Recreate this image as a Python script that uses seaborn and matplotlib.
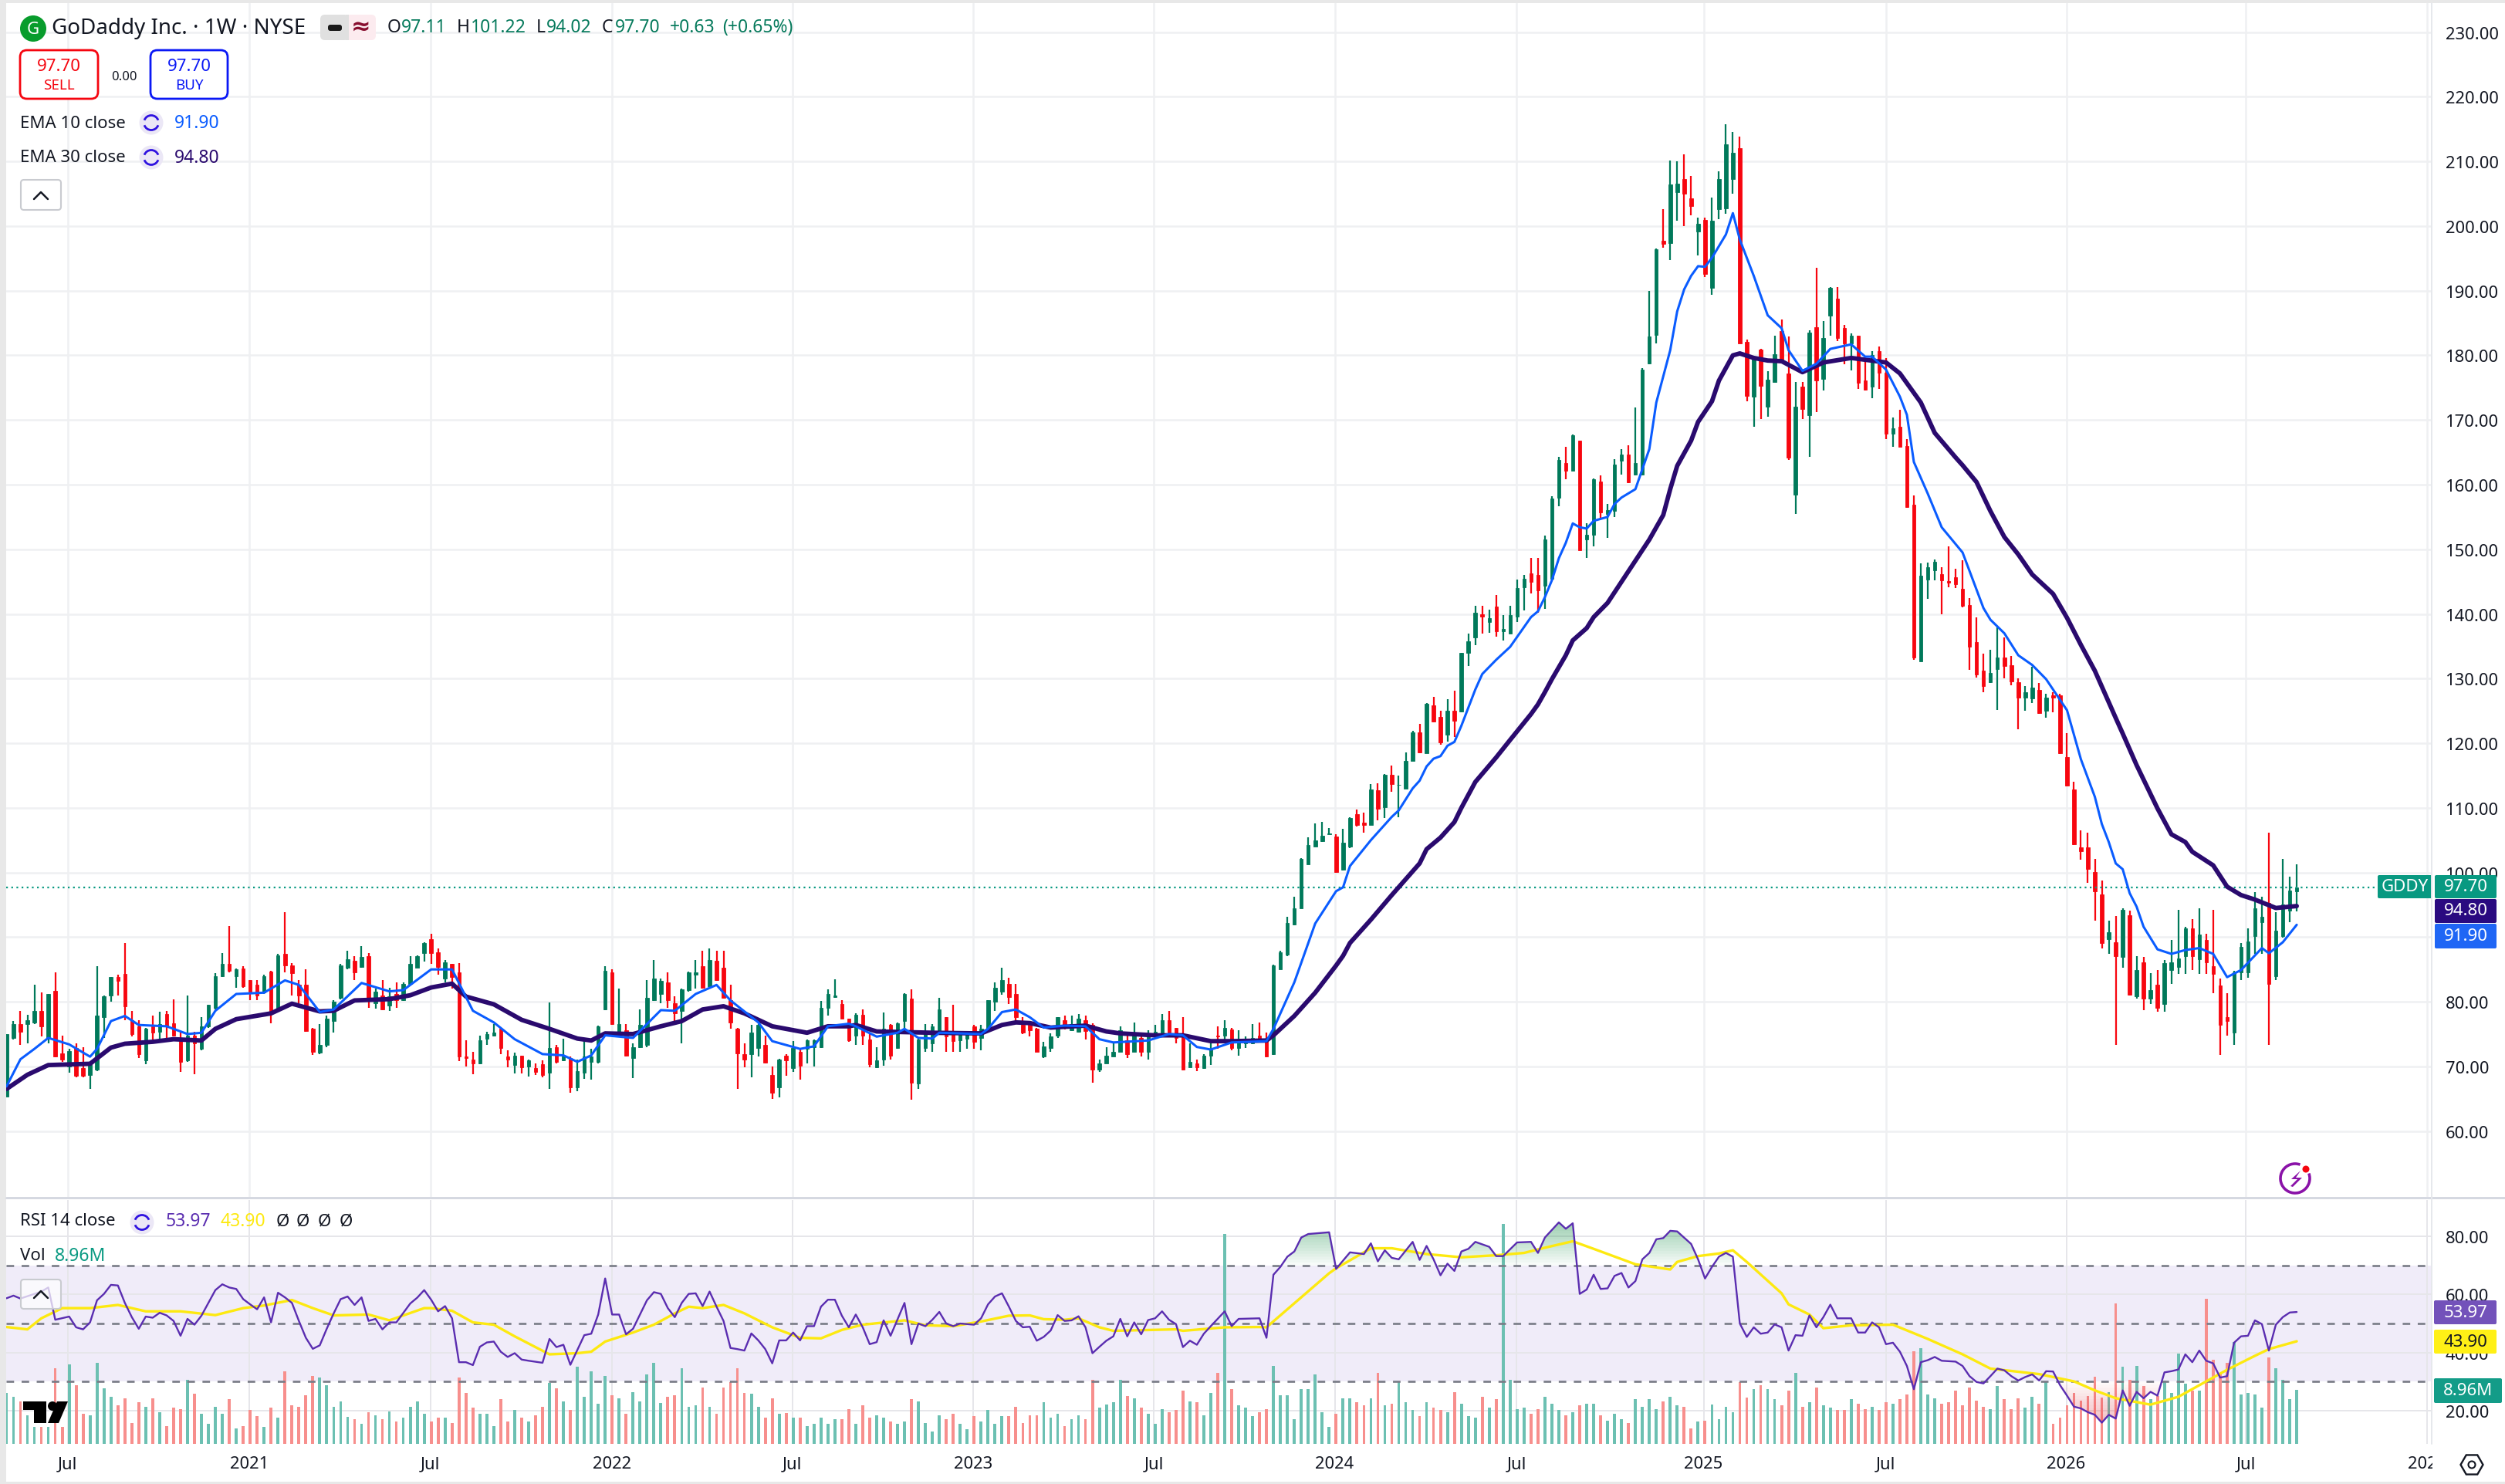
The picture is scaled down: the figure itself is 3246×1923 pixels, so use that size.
import numpy as np
import seaborn as sns
import matplotlib
matplotlib.use("Agg")
import matplotlib.pyplot as plt
from matplotlib.patches import Rectangle, FancyBboxPatch, Circle, Arc, RegularPolygon, Polygon

sns.set_style("white")
plt.rcParams['font.family'] = ['Noto Sans', 'DejaVu Sans']

# weekly candles
opens = [65.3,74.4,76.6,76.6,76.8,78.6,74.4,81.7,72.0,70.0,
    72.8,69.7,68.7,69.5,77.6,81.0,83.8,84.3,77.2,76.2,
    70.9,76.2,75.4,78.1,76.7,74.4,70.9,74.8,72.7,76.2,
    79.0,83.9,85.8,83.9,85.1,83.4,82.6,81.4,84.7,78.6,
    87.4,85.6,82.6,82.6,75.8,72.1,73.3,77.0,80.6,85.2,
    86.3,85.4,87.1,79.8,81.0,79.4,81.2,80.2,82.8,85.3,
    87.5,89.7,87.7,83.6,85.8,84.6,71.5,71.0,70.4,74.3,
    74.7,75.8,71.5,70.2,71.7,70.0,69.7,70.3,69.0,73.0,
    70.9,71.3,66.7,69.0,70.7,70.7,78.8,84.6,75.4,75.6,
    71.3,73.0,73.3,80.2,81.2,83.0,79.8,78.6,81.8,84.2,
    85.5,82.4,86.3,85.2,80.2,75.8,71.9,71.9,72.9,73.3,
    68.7,66.7,71.7,69.7,72.3,72.7,73.0,73.0,79.0,80.7,
    79.6,77.4,74.8,78.0,74.2,69.9,71.1,76.4,72.9,77.0,
    80.5,67.3,72.9,73.5,75.0,77.6,75.0,74.0,74.3,76.2,
    74.4,75.6,80.0,81.5,82.7,81.2,76.4,76.4,75.8,71.5,
    72.9,74.8,77.1,75.6,75.4,77.2,76.4,69.5,70.5,71.5,
    72.3,74.0,72.3,74.4,72.3,74.6,75.0,77.1,75.9,75.0,
    69.9,70.5,69.7,71.7,74.8,74.8,75.7,72.9,73.5,73.5,
    74.7,74.0,71.9,85.0,87.3,91.9,94.5,101.3,104.0,104.8,
    105.9,105.6,100.4,104.0,109.0,107.7,107.4,112.7,110.1,115.1,
    113.5,113.0,117.3,121.7,118.4,125.9,124.1,121.3,125.0,124.9,
    134.0,136.4,139.9,138.8,141.1,137.3,136.9,139.6,144.1,146.3,
    146.0,144.3,145.4,158.0,163.4,162.2,166.8,151.5,152.2,160.5,
    155.5,155.9,163.7,164.7,161.6,161.6,178.7,183.2,197.7,197.4,
    205.3,207.3,204.3,199.2,200.9,190.4,202.6,202.8,207.3,212.1,
    182.1,173.6,180.9,172.1,175.9,183.7,177.2,158.5,175.2,170.8,
    184.3,176.4,186.2,188.8,184.2,181.9,183.0,176.1,175.2,180.7,
    177.3,167.9,169.0,166.0,156.9,132.7,145.3,146.7,146.2,145.1,
    145.7,143.9,141.4,135.6,131.2,129.4,131.5,133.3,132.1,129.4,
    127.1,126.9,128.3,125.0,127.4,127.4,117.8,112.8,103.9,103.9,
    100.1,96.6,89.7,89.2,86.9,93.4,80.8,86.1,80.5,82.6,
    79.7,84.9,85.4,87.0,91.3,86.6,89.5,85.5,82.5,77.6,
    75.2,84.6,84.6,90.1,92.3,95.3,84.0,90.1,94.1,97.11]
highs = [75.0,77.0,78.6,78.0,82.6,81.4,81.2,84.6,74.7,72.7,
    73.6,73.0,70.7,85.5,81.0,83.8,84.2,89.1,78.6,77.2,
    76.0,77.9,78.4,78.6,80.4,75.2,81.0,75.4,77.6,79.5,
    84.4,87.5,91.7,85.1,85.5,83.4,83.4,84.2,84.8,87.4,
    93.8,86.0,83.4,85.0,76.0,76.6,77.8,80.2,85.8,87.9,
    87.0,88.6,87.5,82.0,83.3,82.2,83.0,83.0,87.0,87.2,
    89.2,90.5,88.3,86.5,85.8,86.0,74.0,72.3,74.7,75.4,
    76.6,76.0,72.5,72.1,71.7,71.0,70.5,70.9,79.9,73.3,
    74.3,71.5,71.1,74.0,72.7,76.3,85.5,85.0,82.0,76.5,
    73.6,78.8,83.4,86.4,83.6,84.6,80.8,82.0,84.7,86.5,
    87.9,88.3,87.9,87.9,82.6,75.9,73.6,76.4,76.6,74.8,
    70.0,71.2,71.9,73.9,72.7,74.2,74.1,80.1,81.9,83.5,
    80.2,77.4,78.2,78.8,75.0,73.0,78.3,76.6,76.8,81.3,
    81.9,74.3,76.5,76.5,80.6,77.6,79.5,75.4,75.4,76.4,
    76.4,80.3,83.0,85.3,83.7,82.8,77.6,77.0,75.9,73.8,
    75.1,77.6,77.9,77.8,78.1,77.9,76.7,71.1,73.0,73.5,
    76.2,75.0,76.8,74.8,75.6,76.4,78.1,78.6,76.0,77.6,
    73.5,71.1,71.9,73.6,76.2,77.2,75.9,75.6,74.6,76.5,
    76.8,75.2,85.7,87.9,93.1,96.2,102.2,105.4,107.6,107.8,
    106.9,105.9,106.7,108.6,109.7,109.2,113.7,113.8,115.2,116.5,
    115.0,118.6,121.9,123.0,126.2,127.2,125.0,126.8,128.1,134.0,
    136.9,141.3,141.2,140.7,142.9,139.8,141.3,145.3,146.0,148.7,
    148.7,152.1,158.2,164.3,165.8,167.7,166.8,154.0,161.0,161.4,
    157.0,163.9,165.5,166.1,171.9,178.0,190.0,196.5,202.6,210.2,
    210.0,211.1,207.8,201.3,201.3,204.4,208.5,215.8,214.6,213.8,
    182.5,179.7,181.0,177.6,183.1,185.5,182.9,175.9,175.9,183.9,
    193.5,185.3,190.6,190.6,184.7,183.4,183.0,179.7,180.7,181.4,
    179.6,170.4,171.6,167.1,158.3,147.8,148.0,148.4,147.2,150.5,
    147.0,148.3,142.5,139.5,133.9,134.4,137.9,136.4,133.5,130.0,
    128.8,131.8,129.3,127.6,127.9,127.7,121.6,114.0,106.5,106.1,
    102.1,98.8,92.5,93.3,94.4,94.1,87.0,86.9,84.4,84.9,
    86.4,89.5,94.2,91.6,92.8,94.4,90.5,94.2,83.6,81.3,
    84.8,89.1,91.3,97.0,96.2,106.2,93.8,102.1,99.4,101.22]
lows = [65.3,74.2,73.3,73.6,76.6,74.6,73.5,71.4,70.7,69.0,
    68.3,68.3,66.5,69.3,74.4,80.0,81.0,77.2,74.6,71.3,
    70.3,74.2,74.2,74.2,74.6,69.2,70.7,68.8,72.5,76.0,
    78.8,83.8,84.6,82.2,82.2,80.2,80.2,81.2,76.7,78.5,
    84.6,81.0,79.8,75.4,71.8,71.9,73.0,75.2,80.4,85.0,
    83.4,85.2,79.0,78.9,78.7,78.6,79.0,80.1,82.6,85.2,
    86.2,85.8,84.2,83.0,82.0,70.8,70.0,68.8,70.3,73.3,
    74.6,71.9,69.9,68.9,68.9,68.4,68.7,68.3,66.5,70.5,
    70.8,65.9,66.1,68.1,67.9,70.5,78.7,76.4,75.0,71.5,
    68.2,72.9,73.0,80.1,79.8,79.0,76.6,73.5,81.6,82.0,
    82.0,82.2,83.2,80.5,75.8,66.5,69.9,68.3,71.5,70.5,
    65.0,65.2,68.5,69.1,68.0,70.5,70.0,72.8,77.8,80.6,
    77.4,73.8,73.3,73.3,69.9,69.7,70.1,71.1,72.7,75.8,
    64.8,66.5,72.3,72.3,75.0,72.3,72.3,72.3,72.7,72.7,
    72.5,75.4,78.6,81.1,79.7,76.8,75.0,74.6,72.3,71.3,
    72.3,74.4,75.7,75.5,75.2,74.2,67.5,69.1,70.4,71.5,
    72.2,71.3,72.2,71.5,71.1,74.4,75.0,75.0,73.6,69.4,
    69.8,69.3,69.6,70.2,72.7,73.9,72.5,71.7,72.9,73.4,
    74.0,71.4,71.8,85.0,87.1,91.8,94.4,101.2,104.0,104.7,
    105.9,100.0,100.3,103.8,107.1,106.2,107.3,108.1,108.4,112.5,
    108.5,112.9,117.2,118.5,118.4,123.2,119.8,120.3,120.9,124.8,
    132.0,135.2,136.9,137.1,136.5,135.9,136.9,138.8,140.5,143.2,
    140.2,140.8,145.3,156.7,160.8,162.1,149.9,148.6,150.4,154.6,
    151.8,155.0,161.6,160.2,161.4,161.4,178.6,181.9,196.6,194.8,
    200.8,200.0,201.7,195.4,192.1,189.4,201.1,201.9,205.0,181.8,
    172.9,168.9,170.2,170.5,175.9,178.7,163.8,155.5,170.2,164.3,
    171.2,174.6,183.1,182.2,178.6,177.7,174.8,174.6,173.4,174.8,
    167.1,165.9,165.8,156.4,132.9,132.7,142.3,145.2,140.0,144.1,
    144.0,141.0,131.3,130.1,127.9,129.3,125.1,130.0,128.9,122.2,
    125.0,126.2,124.5,123.9,124.8,118.3,113.3,104.3,102.0,98.4,
    92.5,88.3,87.4,73.3,85.2,81.0,80.5,78.7,79.6,78.5,
    78.5,82.8,84.3,84.3,84.9,84.3,84.3,81.3,71.8,74.7,
    73.3,83.4,83.7,87.4,87.4,73.3,83.4,89.9,92.3,94.02]
closes = [75.0,76.6,75.4,77.2,78.6,76.2,81.2,71.5,71.0,72.4,
    68.5,68.5,70.3,77.8,80.8,83.8,83.2,79.3,75.0,71.9,
    75.8,75.2,76.6,76.2,74.8,70.7,74.8,73.6,76.2,79.5,
    83.9,85.8,84.8,85.0,82.4,81.6,81.0,83.9,78.2,87.2,
    85.6,84.4,81.0,75.5,72.3,73.3,77.4,80.0,85.6,86.6,
    84.6,86.9,80.2,81.6,78.8,80.8,80.2,82.8,85.8,87.0,
    89.1,87.5,85.4,86.1,83.8,71.5,71.3,70.4,74.0,75.0,
    75.2,72.9,71.0,71.7,69.9,70.9,69.1,68.7,72.9,70.7,
    71.5,66.8,69.3,71.5,71.5,76.2,84.8,76.6,76.6,71.7,
    73.0,76.4,80.6,83.6,83.2,80.2,78.2,81.9,84.6,84.6,
    82.2,86.5,83.4,80.6,76.8,72.0,71.0,75.2,76.4,70.6,
    65.9,71.1,70.9,72.9,70.1,74.0,74.0,79.0,81.2,81.0,
    77.4,74.0,78.0,74.8,70.3,70.9,75.8,71.7,76.7,81.2,
    67.5,74.1,75.4,76.2,78.8,74.6,73.9,75.0,75.0,73.8,
    75.8,80.2,82.1,83.3,80.7,77.6,75.2,75.6,72.3,73.1,
    74.6,77.6,76.0,76.6,77.4,75.5,69.5,70.5,71.7,72.3,
    75.6,71.9,75.0,72.2,75.0,75.4,77.1,75.2,74.4,69.5,
    70.7,69.9,71.7,72.6,74.6,75.9,72.9,74.2,74.0,74.4,
    74.2,71.5,85.6,87.7,92.2,94.5,102.1,104.2,104.9,105.7,
    106.0,100.1,104.6,108.4,107.4,107.4,112.8,109.9,115.1,113.7,
    113.6,117.2,121.7,118.6,126.1,123.3,120.1,125.0,123.5,134.0,
    135.8,140.2,139.6,139.3,137.3,137.7,139.8,144.0,145.4,145.0,
    143.7,151.5,157.9,163.8,162.1,167.6,149.9,152.2,160.8,155.7,
    156.1,163.1,164.7,160.4,163.3,177.8,182.9,196.4,197.2,206.4,
    206.6,205.0,203.1,200.3,192.6,200.8,207.3,212.6,211.3,181.9,
    173.7,179.7,175.3,176.2,180.2,178.9,164.2,172.1,171.7,183.5,
    176.1,182.7,190.4,182.7,181.9,183.1,175.7,174.7,180.0,177.3,
    167.9,168.7,165.9,156.5,133.2,145.9,147.2,148.1,145.2,144.8,
    144.6,141.3,134.9,130.6,128.8,130.9,133.2,131.9,129.5,127.1,
    127.9,128.6,124.6,127.1,127.1,118.4,113.4,104.4,103.3,100.5,
    97.1,89.1,90.7,87.1,94.2,81.1,84.9,80.5,81.8,79.1,
    86.0,86.1,86.7,91.3,87.0,90.4,86.1,84.3,76.4,77.0,
    84.6,88.5,89.3,94.5,93.1,82.8,91.0,95.0,97.2,97.70]
volumes = [8.5,7.8,7.1,4.8,2.8,2.8,2.8,12.5,2.8,13.2,
    9.8,5.0,4.7,13.5,9.2,7.8,6.4,7.6,3.5,6.9,
    6.2,7.6,5.3,3.0,6.0,5.8,10.7,8.3,5.0,3.3,
    6.2,5.0,7.4,2.6,3.0,5.6,4.6,2.8,6.0,4.3,
    12.0,6.4,6.2,8.1,11.3,11.0,9.7,6.2,7.0,4.5,
    4.1,3.3,5.3,4.8,4.1,5.4,3.7,4.3,6.2,7.1,
    5.0,3.7,4.3,4.3,3.5,11.0,8.5,6.0,5.0,5.0,
    3.0,7.4,3.7,5.6,4.3,3.7,4.7,6.2,10.1,9.2,
    7.1,5.6,12.8,7.8,12.0,6.7,11.3,8.1,7.5,5.0,
    8.6,7.1,11.5,13.5,6.8,7.8,8.1,12.5,6.2,6.4,
    9.4,6.2,5.0,9.4,10.3,12.5,8.4,8.3,6.2,4.3,
    7.6,5.0,5.1,4.3,4.3,3.0,3.3,4.3,3.3,4.1,
    4.1,5.8,3.3,6.4,4.3,4.7,4.3,3.7,3.3,3.7,
    7.4,7.1,3.5,2.1,4.8,4.1,5.0,3.3,2.4,4.6,
    3.7,5.6,3.3,4.6,4.6,6.2,3.5,4.8,4.8,6.9,
    4.3,5.0,3.0,4.1,4.8,4.1,10.7,6.0,6.6,6.9,
    10.7,7.9,7.6,6.0,5.0,3.3,5.8,5.3,5.6,8.8,
    7.1,6.9,4.8,8.4,11.8,34.9,9.1,6.4,6.0,4.6,
    5.3,5.8,13.0,8.1,8.1,4.1,9.1,9.1,11.5,5.3,
    2.8,5.0,7.6,7.6,6.9,6.4,7.6,11.8,6.4,6.7,
    10.3,6.9,5.6,4.6,6.9,6.0,5.6,5.3,8.6,6.7,
    4.6,4.3,7.8,6.0,7.4,36.5,10.7,5.8,6.0,5.0,
    5.8,7.8,6.7,5.6,4.8,5.3,6.4,6.7,6.7,4.8,
    3.8,5.0,4.1,3.5,7.4,6.2,7.4,5.8,7.1,7.8,
    6.4,6.2,2.6,3.7,3.8,6.6,4.1,6.2,5.3,10.3,
    7.7,9.1,9.8,9.1,7.4,6.4,8.9,11.8,6.2,6.9,
    9.4,6.4,6.0,5.7,5.6,7.4,6.7,5.8,6.2,5.6,
    6.9,6.7,7.4,8.2,15.4,15.9,8.2,7.6,6.7,6.9,
    8.9,6.4,9.4,7.2,6.2,5.8,9.6,7.4,5.8,7.6,
    6.0,7.8,6.7,10.3,3.3,4.3,6.4,8.4,7.2,7.9,
    11.2,7.7,8.6,23.3,12.8,10.6,13.0,9.6,7.4,7.9,
    10.5,8.4,15.0,10.0,8.8,8.9,24.1,14.0,11.8,13.5,
    16.9,8.2,8.4,8.2,6.0,14.4,12.5,10.6,7.4,8.96]

# lines read at their turning points: (bar number, value)
ema10_pts = [(0,66.9),(2,71.1),(4,72.7),(6,74.4),(9,73.4),(12,71.5),(13,72.7),(15,77),(17,77.8),(19,76.4),
    (23,76.2),(26,75),(28,75.2),(30,78.6),(33,81.2),(37,81.4),(40,83.3),(42,82.6),(45,78.4),(47,78.8),
    (51,82.9),(55,81.6),(57,81.8),(61,85),(64,85),(67,78.6),(70,76.8),(73,74.2),(77,71.9),(80,71.7),
    (82,70.7),(84,71.7),(86,74.8),(90,74.4),(94,78.7),(96,78.6),(99,81.2),(102,82.6),(104,80.2),(108,76.8),
    (110,73.9),(114,72.7),(116,73.1),(118,76.2),(121,76.6),(122,76.2),(125,74.6),(128,75.2),(129,75.8),(131,74.4),
    (133,74.3),(134,75.2),(140,75),(141,75.8),(143,78.4),(145,78.8),(147,77.6),(149,76),(152,76.3),(155,76.2),
    (157,74.2),(159,73.7),(164,74),(167,75),(169,74.8),(171,73),(173,72.6),(176,73.7),(181,73.9),(182,75.8),
    (185,83),(188,92.1),(191,97.1),(192,97.7),(193,101),(196,105),(199,108.6),(200,109.6),(202,113),(203,114.2),
    (204,116.4),(205,117.6),(206,118),(207,119.6),(208,120.2),(209,122.7),(211,128.3),(212,130.7),(214,132.9),(216,134.9),
    (219,139.5),(220,140.4),(221,142.6),(222,145.2),(223,148.6),(224,151),(225,154),(226,153.4),(227,153.2),(228,154.4),
    (230,155),(231,157),(232,158),(234,159.3),(236,165.5),(237,172.7),(239,180.8),(240,186.8),(241,190.2),(242,192.3),
    (243,193.8),(244,193.7),(245,195.1),(247,198.7),(248,202),(249,197.9),(251,192.3),(253,186.2),(255,184.2),(256,180.8),
    (258,177.6),(260,178.7),(262,181),(265,181.7),(267,179.8),(268,179.8),(270,177.8),(272,173.6),(273,170.8),(274,163.5),
    (276,158.6),(278,153.4),(281,149.5),(284,140.9),(285,139.1),(287,137),(289,133.6),(291,132.1),(293,129.9),(296,125.1),
    (298,117.5),(300,111.7),(301,107.5),(302,104.7),(303,101.4),(304,100.5),(305,96.8),(306,94.7),(307,91.6),(309,88.1),
    (311,87.4),(313,88),(315,88.3),(317,87.4),(319,83.8),(321,84.9),(324,88.3),(325,87.5),(327,89.2),(329,91.9)]
ema30_pts = [(0,66.5),(3,68.7),(6,70.2),(12,70.4),(15,72.9),(17,73.5),(21,73.8),(24,74.2),(28,74),(30,75.8),
    (33,77.3),(38,78.2),(41,79.7),(45,78.5),(47,78.6),(50,80.2),(55,80.4),(58,81),(61,82.2),(64,82.8),
    (66,80.8),(70,79.6),(74,77.2),(78,75.8),(82,74.3),(84,74),(86,75.1),(90,75),(94,76.2),(97,77),
    (100,78.8),(103,79.3),(106,78.2),(110,76.2),(115,75.2),(118,76.2),(121,76.2),(122,76.4),(125,75.4),(133,75.2),
    (140,75.1),(143,76.4),(145,76.8),(147,76.7),(150,76),(155,76.3),(158,75.4),(160,75.1),(165,74.8),(169,74.8),
    (173,73.9),(176,73.9),(181,74),(182,74.8),(185,77.8),(188,81.4),(191,85.6),(192,87.1),(193,89.1),(196,92.7),
    (199,96.5),(203,101.4),(204,103.6),(206,105.4),(208,107.8),(209,110),(211,114),(214,117.8),(216,120.5),(219,124.5),
    (220,126),(221,127.9),(222,129.9),(224,133.6),(225,135.9),(227,137.8),(228,139.5),(230,141.7),(236,151.5),(238,155.3),
    (239,159.3),(240,162.9),(242,166.8),(243,169.7),(245,172.9),(246,176.1),(248,180),(249,180.3),(251,179.6),(253,179.2),
    (255,179.1),(258,177.4),(261,178.9),(265,179.6),(270,178.9),(272,177.2),(273,175.7),(275,172.7),(277,168),(280,164.2),
    (281,163),(283,160.4),(285,155.9),(287,151.9),(289,149.2),(291,146.1),(294,143.1),(296,139.4),(298,135.2),(300,131.2),
    (303,123.9),(304,121.5),(306,116.6),(309,109.9),(311,105.9),(313,104.7),(314,103.2),(317,101.1),(319,97.8),(321,96.5),
    (323,95.8),(326,94.5),(329,94.8)]
rsi_pts = [(0,58.7),(1,59.6),(2,58.6),(5,61),(6,62.4),(7,51.3),(9,52.4),(10,48.7),(11,48),(12,50.4),(13,58),(14,60.2),
    (15,63.3),(16,63.1),(17,57.1),(18,52.2),(19,48.2),(20,52.4),(21,52),(22,53.7),(23,52.8),(24,50.9),(25,45.8),(26,51.6),
    (27,49.6),(28,52.7),(29,57.1),(30,61.5),(31,63.5),(32,62.4),(33,61.9),(34,58.4),(35,56.6),(36,54.9),(37,59),(38,50.4),
    (39,60.6),(40,59),(41,57.1),(42,50.9),(43,45.1),(44,41.3),(45,42.5),(46,48.2),(47,53.5),(48,58.4),(49,59.3),(50,56.4),
    (51,59),(52,50.9),(53,51.6),(54,48),(55,50.4),(56,50.4),(58,56.9),(59,58.9),(60,61.5),(61,58.2),(62,54.2),(63,56),
    (64,51.8),(65,36.7),(66,36.7),(67,35.7),(68,42),(69,43.5),(70,43.8),(71,40.3),(72,38.5),(73,39.8),(74,37.6),(75,37.2),
    (77,36.5),(78,44.7),(79,41.9),(80,42.7),(81,35.8),(83,46),(84,46.5),(85,53.1),(86,65.5),(87,53.1),(88,53.1),(89,46.3),
    (90,48.2),(92,58),(93,60.8),(94,60.2),(95,55.3),(96,52.2),(97,57.1),(98,60.2),(99,60.4),(100,56),(101,61),(102,55.8),
    (103,50.9),(104,41.6),(105,41.2),(106,40.7),(107,46.6),(108,44.2),(109,41.2),(110,36.3),(111,44.2),(112,44.2),(113,46.9),(114,44.2),
    (115,49.1),(116,49.1),(117,55.8),(118,58.2),(119,58.2),(120,52.7),(121,48.7),(122,53.1),(123,48.7),(124,42.9),(125,43.6),(126,51.1),
    (127,45.8),(129,57.1),(130,42.9),(131,50),(132,49.1),(133,51.3),(134,54),(135,50),(136,49.1),(137,50),(139,49.6),(140,51.8),
    (141,56.6),(142,59.3),(143,60.4),(144,55.8),(145,50.9),(146,48.7),(147,48.9),(148,44.1),(149,45.4),(150,47.6),(151,52.9),(152,50.9),
    (153,51.1),(154,52.5),(155,48.7),(156,39.8),(157,42),(158,44.1),(159,45.6),(160,51.6),(161,45.6),(162,50.4),(163,46.3),(164,51.2),
    (165,51.8),(166,54.2),(167,51.3),(168,49.8),(169,41.9),(170,44.1),(171,42.7),(172,46.5),(173,49.1),(175,54.2),(176,49.1),(177,51.6),
    (180,51.8),(181,45.1),(182,66.8),(183,69.5),(184,73),(185,74.8),(186,79.6),(187,80.8),(190,81.4),(191,68.8),(193,74.5),(195,73.9),
    (196,77.6),(197,71.4),(198,75.2),(199,72.6),(200,72.1),(202,78.1),(203,71.9),(204,76.7),(205,72.1),(206,66.6),(207,70.6),(208,68.1),
    (209,74.8),(210,75.7),(211,78.1),(213,76.4),(214,73.2),(215,73.2),(217,77.9),(219,78.1),(220,74.3),(221,79.6),(223,84.8),(224,82.6),
    (225,84.5),(226,60.2),(227,61.7),(228,66.8),(229,61.9),(230,62.1),(231,66.4),(232,67.4),(233,62.4),(234,64.6),(235,72.1),(236,74.3),
    (237,79),(238,79.4),(239,81.9),(240,81.7),(242,77.4),(243,72.1),(244,65.5),(245,69.5),(246,73),(247,74.3),(248,73),(249,50),
    (250,45.4),(251,48.7),(252,46.5),(253,46.9),(254,49.7),(255,48.7),(256,40.7),(257,46),(258,45.8),(259,52.8),(260,48.7),(261,52.2),
    (262,56.5),(263,51.8),(265,51.8),(266,46.9),(267,46.9),(268,50.4),(269,48.7),(270,42.9),(271,43.4),(272,40.3),(273,35.4),(274,27.4),
    (275,36.7),(276,37.4),(277,38.5),(278,37.2),(280,36.9),(281,35.4),(282,31.9),(283,29.9),(284,29.4),(285,31.9),(286,34.5),(287,33.9),
    (288,31.9),(289,30.4),(290,31.6),(291,32.5),(292,30.4),(293,33.6),(294,33.5),(295,28.8),(296,25.2),(297,21.4),(298,20.8),(299,19.5),
    (300,18.6),(301,15.9),(302,18.6),(303,17.3),(304,27),(305,21.7),(306,26.5),(307,24.3),(308,26.5),(309,25.2),(310,33.2),(311,33.6),
    (312,34.2),(313,39.4),(314,36.7),(315,40.7),(316,37.2),(317,36.3),(318,31.4),(319,31.9),(320,43.4),(321,45.6),(322,45.8),(323,51.1),
    (324,49.8),(325,40.7),(326,49.6),(327,52.2),(328,53.8),(329,53.97)]
rsi_ma_pts = [(0,48.8),(3,48),(5,51.8),(8,55.3),(12,55.3),(16,56.4),(20,54.2),(25,54.2),(30,52.9),(34,55.3),(37,56.2),(41,58.1),
    (44,55.3),(47,52.8),(52,53.1),(55,51.1),(60,55.3),(61,55.3),(64,54.4),(67,50.4),(70,49.6),(73,45.6),(78,39.4),(82,39.8),
    (84,40.3),(86,43.8),(90,46.9),(93,49.6),(96,53.5),(98,55.8),(100,55.3),(103,56.4),(106,53.5),(110,48.7),(114,45.1),(117,44.9),
    (120,47.8),(121,48.4),(123,49.6),(129,51.1),(132,49.4),(136,49.1),(140,50.7),(144,52.7),(147,52.8),(149,51.5),(152,51.3),(154,51.8),
    (157,48.7),(159,47.5),(168,48),(169,47.5),(175,48.7),(180,48.8),(181,48.7),(190,67.3),(191,69),(196,75.9),(199,75.9),(204,73.9),
    (209,72.8),(214,73.5),(218,74.3),(221,76.1),(225,78.3),(228,75.7),(234,70.4),(239,68.6),(240,71.2),(243,73.2),(246,74.1),(248,75.2),
    (250,71.2),(255,60.4),(256,56.6),(259,53.1),(261,48.4),(265,49.4),(271,49.6),(276,44.7),(281,39.4),(285,34.5),(292,32.6),(297,30.1),
    (300,27),(303,24.3),(308,22.1),(312,24.8),(316,30.1),(319,34.1),(323,38.9),(325,41.2),(329,43.9)]

price_ticks = list(range(60, 240, 10))
rsi_ticks = [20, 40, 60, 80]
date_labels = ['Jul', '2021', 'Jul', '2022', 'Jul', '2023', 'Jul', '2024', 'Jul', '2025', 'Jul', '2026', 'Jul', '2027']
date_bars = [8.8, 34.9, 60.9, 87, 112.9, 138.9, 164.8, 190.8, 216.9, 243.8, 270, 295.9, 321.7, 347.7]

for name, arr in [('opens', opens), ('highs', highs), ('lows', lows), ('closes', closes), ('volumes', volumes)]:
    assert len(arr) == 330, (name, len(arr))

W, H = 3246, 1924
UP, DOWN = '#00795a', '#f7060f'
VUP, VDOWN = '#6cc0b2', '#f78f8d'
GRID = '#eff0f2'
XLIM = (-0.05, 348.5)
bars = np.arange(330)


def axes_px(x0, y0, x1, y1, **kw):
    return fig.add_axes([x0 / W, 1 - y1 / H, (x1 - x0) / W, (y1 - y0) / H], **kw)


def pts(seq):
    a = np.array(seq, dtype=float)
    return a[:, 0], a[:, 1]


fig = plt.figure(figsize=(W / 100, H / 100), dpi=100, facecolor='#e8e8e8')
fig.add_artist(Rectangle((8 / W, 1 - 1921 / H), (W - 8) / W, (1921 - 5) / H, transform=fig.transFigure, fc='white', ec='none', zorder=-1))

# price pane
ax = axes_px(8, 5, 3152, 1552, zorder=1)
ax.patch.set_alpha(0)
ax.set_axisbelow(True)
ups = np.array(closes) >= np.array(opens)
cols = [UP if u else DOWN for u in ups]
ax.vlines(bars, lows, highs, colors=cols, lw=1.6, zorder=3)
body_lo = np.minimum(opens, closes)
body_h = np.abs(np.array(closes) - np.array(opens))
ax.bar(bars, body_h, bottom=body_lo, width=0.5, color=cols, edgecolor=cols, linewidth=0.6, zorder=3)
x10, y10 = pts(ema10_pts)
x30, y30 = pts(ema30_pts)
sns.lineplot(x=x30, y=y30, ax=ax, color='#2a0a6e', linewidth=4.2, estimator=None, zorder=5)
sns.lineplot(x=x10, y=y10, ax=ax, color='#0a5cff', linewidth=2.2, estimator=None, zorder=6)
ax.axhline(closes[-1], xmax=(3081 - 8) / (3152 - 8), color='#089981', lw=1.6, ls=(0, (1, 2)), zorder=4)
ax.set_xlim(XLIM)
ax.set_ylim(49.8, 234.5)
ax.yaxis.tick_right()
ax.set_yticks(price_ticks)
ax.set_yticklabels(['%.2f' % t for t in price_ticks], fontsize=15.8, color='#131722')
ax.set_xticks(date_bars)
ax.set_xticklabels([])
ax.tick_params(length=0, axis='y', pad=12)
ax.tick_params(length=0, axis='x')
ax.grid(True, color=GRID, lw=1.8)
sns.despine(ax=ax, left=True, right=True, top=True, bottom=True)

# indicator pane: band and grid, then volume, then the lines
ax_rsi = axes_px(8, 1556, 3152, 1872, zorder=1)
ax_rsi.patch.set_alpha(0)
ax_rsi.set_axisbelow(True)
ax_rsi.axhspan(30, 70, color='#f0ecf9', lw=0, zorder=0)
ax_rsi.set_xlim(XLIM)
ax_rsi.set_ylim(8.6, 92.5)
ax_rsi.yaxis.tick_right()
ax_rsi.set_yticks(rsi_ticks)
ax_rsi.set_yticklabels(['%.2f' % t for t in rsi_ticks], fontsize=15.8, color='#131722')
ax_rsi.set_xticks(date_bars)
ax_rsi.set_xticklabels([])
ax_rsi.tick_params(length=0, axis='y', pad=12)
ax_rsi.tick_params(length=0, axis='x')
ax_rsi.grid(True, color='#e6e6ea', lw=1.4)
sns.despine(ax=ax_rsi, left=True, right=True, top=True, bottom=True)

ax_vol = axes_px(8, 1556, 3152, 1872, zorder=2)
ax_vol.patch.set_alpha(0)
vol_dirs = ['up' if u else 'down' for u in ups]
sns.barplot(x=bars, y=volumes, hue=vol_dirs, palette={'up': VUP, 'down': VDOWN}, native_scale=True,
            dodge=False, width=0.42, saturation=1, legend=False, errorbar=None, linewidth=0, ax=ax_vol)
ax_vol.set_xlim(XLIM)
ax_vol.set_ylim(0, 40.5)
ax_vol.axis('off')

ax_line = axes_px(8, 1556, 3152, 1872, zorder=3)
ax_line.patch.set_alpha(0)
ax_line.set_xlim(XLIM)
ax_line.set_ylim(8.6, 92.5)
ax_line.axis('off')
for lvl in (70, 50, 30):
    ax_line.axhline(lvl, color='#787b86', lw=1.9, ls=(0, (3.7, 3.7)))
xr, yr = pts(rsi_pts)
for lvl in np.arange(70, 86, 1.0):
    ax_line.fill_between(xr, lvl, yr, where=yr > lvl, interpolate=True, color='#2e9e5b', alpha=0.035, lw=0)
for lvl in np.arange(30, 14, -1.0):
    ax_line.fill_between(xr, yr, lvl, where=yr < lvl, interpolate=True, color='#f23645', alpha=0.025, lw=0)
xm, ym = pts(rsi_ma_pts)
sns.lineplot(x=xm, y=ym, ax=ax_line, color='#fde910', linewidth=2.4, estimator=None, zorder=5)
sns.lineplot(x=xr, y=yr, ax=ax_line, color='#5a2db0', linewidth=1.7, estimator=None, zorder=6)
ax_line.set_xlim(XLIM)
ax_line.set_ylim(8.6, 92.5)
ax_line.set_xlabel('')
ax_line.set_ylabel('')

# date scale, the last label is cut by the price scale
ax_date = axes_px(8, 1872, 3152, 1921, zorder=1)
ax_date.patch.set_alpha(0)
ax_date.set_xlim(XLIM)
ax_date.set_ylim(1, 0)
ax_date.axis('off')
for pos, lab in zip(date_bars, date_labels):
    ax_date.text(pos, 0.53, lab, ha='center', va='center', fontsize=15.8, color='#131722', clip_on=True,
                 fontweight='normal' if lab == 'Jul' else 'semibold')

# everything the platform paints over the chart, in pixels
ov = fig.add_axes([0, 0, 1, 1], zorder=10)
ov.patch.set_alpha(0)
ov.set_xlim(0, W)
ov.set_ylim(H, 0)
ov.axis('off')


def label(x, y, s, color='#131722', size=16, ha='left', **kw):
    ov.text(x, y, s, color=color, fontsize=size, ha=ha, va='center', **kw)


def box(x0, y0, x1, y1, fc='white', ec='none', lw=0, r=4, **kw):
    ov.add_patch(FancyBboxPatch((x0 + r, y0 + r), x1 - x0 - 2 * r, y1 - y0 - 2 * r,
                                boxstyle='round,pad=%d' % r, fc=fc, ec=ec, lw=lw, **kw))


def refresh(x, y):
    ov.add_patch(Circle((x, y), 15.5, fc='#ebe7f6', ec='none'))
    ov.add_patch(Arc((x, y), 19, 19, theta1=200, theta2=340, ec='#2f12e0', lw=2))
    ov.add_patch(Arc((x, y), 19, 19, theta1=20, theta2=160, ec='#2f12e0', lw=2))


# separators
ov.plot([8, W], [1553, 1553], color='#d3d6df', lw=2)
ov.plot([3151, 3151], [5, 1872], color='#e6e8ec', lw=1.4)

# header
ov.add_patch(Circle((43, 38), 17, fc='#089c2c', ec='none'))
label(43, 38, 'G', color='white', size=16, ha='center', fontweight='bold')
label(67, 37, 'GoDaddy Inc. · 1W · NYSE', size=20)
box(415, 20, 452, 53, fc='#e0e0e0', r=6)
box(448, 20, 487, 53, fc='#fcebef', r=6)
ov.add_patch(Rectangle((448, 20), 4, 33, fc='#e0e0e0', ec='none'))
box(425, 33, 443, 41, fc='#1a1a1a', r=3)
label(468, 37, '≈', color='#880e2f', size=22, ha='center', fontweight='bold')
for x, s, c in [(502, 'O', '#131722'), (520, '97.11', '#067a5c'), (592, 'H', '#131722'), (610, '101.22', '#067a5c'),
                (695, 'L', '#131722'), (708, '94.02', '#067a5c'), (780, 'C', '#131722'), (797, '97.70', '#067a5c'),
                (868, '+0.63', '#067a5c'), (936, '(+0.65%)', '#067a5c')]:
    label(x, 36, s, color=c, size=16.5)

# buy and sell boxes
box(26, 66, 127, 129, ec='#f5050f', lw=2, r=9)
label(76, 86, '97.70', color='#f5050f', size=16, ha='center')
label(76, 111, 'SELL', color='#f5050f', size=13.5, ha='center')
label(161, 100, '0.00', size=12, ha='center')
box(195, 66, 295, 129, ec='#0a18f5', lw=2, r=9)
label(245, 86, '97.70', color='#0a18f5', size=16, ha='center')
label(245, 111, 'BUY', color='#0a18f5', size=13.5, ha='center')

# legends
label(26, 160, 'EMA 10 close')
refresh(196, 160)
label(226, 160, '91.90', color='#0a5cff', size=16.5)
label(26, 205, 'EMA 30 close')
refresh(196, 205)
label(226, 205, '94.80', color='#2a0a6e', size=16.5)
box(27, 234, 79, 273, ec='#c9cbd0', lw=1.5, r=4)
ov.plot([44, 53, 62], [259, 250, 259], color='#131722', lw=1.8)

label(26, 1583, 'RSI 14 close')
refresh(184, 1585)
label(215, 1583, '53.97', color='#5a2db0', size=16.5)
label(286, 1583, '43.90', color='#fde910', size=16.5)
for x in (366, 392, 420, 448):
    label(x, 1583, 'Ø', ha='center')
label(26, 1628, 'Vol')
label(71, 1628, '8.96M', color='#089981', size=16.5)
box(27, 1659, 79, 1697, fc='#ffffffbb', ec='#c9cbd0', lw=1.5, r=4)
ov.plot([44, 53, 62], [1683, 1674, 1683], color='#131722', lw=1.8)

# TradingView mark
ov.add_patch(Polygon([(30, 1817), (60, 1817), (60, 1845), (44, 1845), (44, 1828), (30, 1828)], fc='black', ec='none'))
ov.add_patch(Circle((68, 1823), 6, fc='black', ec='none'))
ov.add_patch(Polygon([(74, 1817), (88, 1817), (76, 1845), (62, 1845)], fc='black', ec='none'))

# price tags
box(3081, 1135, 3152, 1165, fc='#089981', r=2)
label(3116, 1150, 'GDDY', color='white', ha='center', fontweight='medium')
box(3155, 1135, 3235, 1165, fc='#089981', r=2)
label(3195, 1150, '97.70', color='white', ha='center', fontweight='medium')
box(3155, 1166, 3235, 1197, fc='#2a0a80', r=2)
label(3195, 1181, '94.80', color='white', ha='center', fontweight='medium')
box(3155, 1198, 3235, 1230, fc='#1f66f5', r=2)
label(3195, 1214, '91.90', color='white', ha='center', fontweight='medium')
box(3154, 1686, 3235, 1717, fc='#7352ba', r=2)
label(3195, 1702, '53.97', color='white', ha='center', fontweight='medium')
box(3154, 1724, 3235, 1755, fc='#fff016', r=2)
label(3195, 1740, '43.90', color='#131722', ha='center', fontweight='medium')
box(3154, 1787, 3242, 1819, fc='#139c88', r=2)
label(3198, 1803, '8.96M', color='white', ha='center', fontweight='medium')

# alert and settings icons
ov.add_patch(Arc((2974, 1528), 38, 38, theta1=-20, theta2=290, ec='#8a12a8', lw=2.6))
ov.add_patch(Polygon([(2981, 1518), (2969, 1529), (2977, 1529), (2968, 1538), (2971, 1539), (2983, 1527), (2975, 1527)], fc='#8a12a8', ec='none'))
ov.add_patch(Circle((2988, 1516), 4.5, fc='#f5050f', ec='none'))
ov.add_patch(RegularPolygon((3203, 1899), 6, radius=14.5, orientation=np.pi / 2, fc='none', ec='#131722', lw=1.7))
ov.add_patch(Circle((3203, 1899), 4.5, fc='none', ec='#131722', lw=1.5))

fig.savefig('out.png', dpi=100, facecolor=fig.get_facecolor())
